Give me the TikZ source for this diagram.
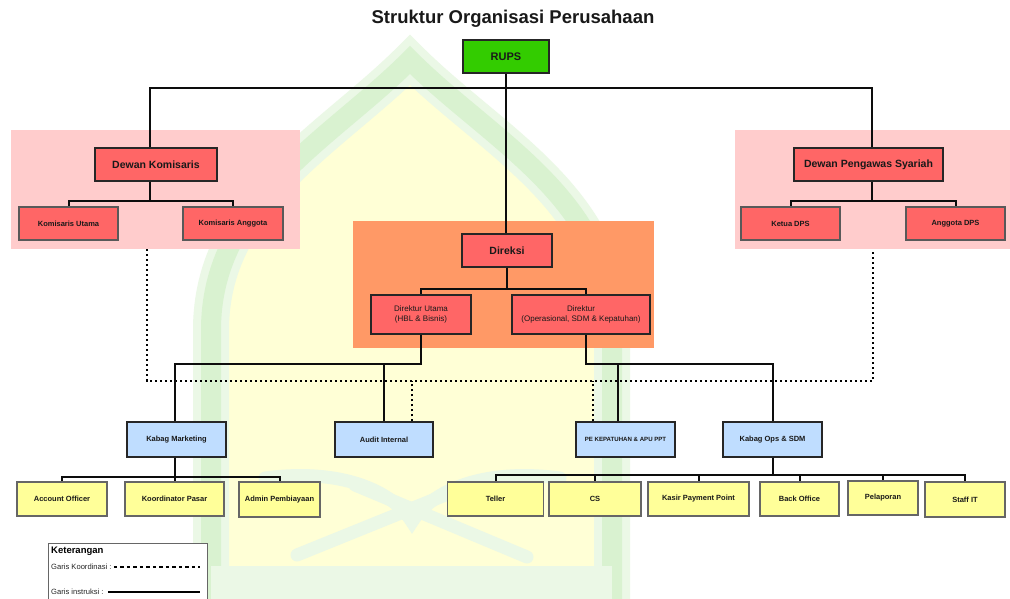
\documentclass[tikz,border=0pt]{standalone}
\usepackage{fontspec}
\setmainfont{Liberation Sans}
\usetikzlibrary{calc}
\definecolor{rupsgreen}{HTML}{33CC00}
\definecolor{redbox}{HTML}{FF6666}
\definecolor{pinkzone}{HTML}{FFCCCC}
\definecolor{orangezone}{HTML}{FF9966}
\definecolor{bluebox}{HTML}{BFDDFF}
\definecolor{yellowbox}{HTML}{FFFF99}
\definecolor{wmyellow}{HTML}{FFFFD6}
\definecolor{wmgreen}{HTML}{D9F2D0}
\definecolor{wmgreenlight}{HTML}{EBF8E6}
\begin{document}
\begin{tikzpicture}[x=1pt,y=-1pt,
  box/.style={draw=black!85, line width=1.3pt, inner sep=1pt, align=center, text=black!90},
  bigtxt/.style={font=\fontsize{10.5}{12}\selectfont\bfseries},
  smalltxt/.style={font=\fontsize{7.5}{9}\selectfont\bfseries},
  regtxt/.style={font=\fontsize{8}{10}\selectfont},
  redb/.style={box, fill=redbox},
  redsub/.style={box, fill=redbox, draw=black!65, smalltxt},
  blueb/.style={box, fill=bluebox, smalltxt},
  yellowb/.style={box, fill=yellowbox, draw=black!60, smalltxt},
  conn/.style={draw=black!95, line width=2pt},
  coord/.style={draw=black, line width=2.2pt, dash pattern=on 2.2pt off 2.8pt},
  zone/.style={draw=none, inner sep=0pt}
]
\clip (0,0) rectangle (1010,599);
\fill[white] (0,0) rectangle (1010,599);

% watermark
\fill[wmyellow] (211,610) -- (211,330) .. controls (211,200) and (330,140) .. (410,60) .. controls (490,140) and (612,200) .. (612,330) -- (612,610) -- cycle;
\draw[wmgreenlight, line width=36pt] (211,620) -- (211,330) .. controls (211,200) and (330,140) .. (410,60) .. controls (490,140) and (612,200) .. (612,330) -- (612,620);
\draw[wmgreen, line width=20pt] (211,620) -- (211,330) .. controls (211,200) and (330,140) .. (410,60) .. controls (490,140) and (612,200) .. (612,330) -- (612,620);
\fill[wmgreenlight] (211,566) rectangle (612,610);
\draw[wmgreenlight, line width=13pt, line cap=round] (265,478) .. controls (340,468) and (392,490) .. (412,522) .. controls (432,490) and (484,468) .. (560,478);
\draw[wmgreenlight, line width=13pt, line cap=round] (297,555) -- (470,485);
\draw[wmgreenlight, line width=13pt, line cap=round] (527,557) -- (355,485);

% title
\node[font=\fontsize{18.5}{22}\selectfont\bfseries, text=black!90] (title) at (513,19) {Struktur Organisasi Perusahaan};

% zones
\node[zone, fill=pinkzone, minimum width=289pt, minimum height=119pt] (zoneK) at (155.5,189.5) {};
\node[zone, fill=pinkzone, minimum width=280pt, minimum height=119pt] (zoneS) at (875,189.5) {};
\node[zone, fill=orangezone, minimum width=301pt, minimum height=127pt] (zoneD) at (503.5,284.5) {};

% boxes
\node[box, fill=rupsgreen, font=\fontsize{11}{13}\selectfont\bfseries, minimum width=86pt, minimum height=33pt] (rups) at (506,56.5) {RUPS};

\node[redb, bigtxt, minimum width=122pt, minimum height=33pt] (dk) at (156,164.5) {Dewan Komisaris};
\node[redsub, minimum width=99pt, minimum height=33pt] (ku) at (68.5,223.5) {Komisaris Utama};
\node[redsub, minimum width=100pt, minimum height=33pt] (ka) at (233,223.5) {Komisaris Anggota};

\node[redb, bigtxt, minimum width=149pt, minimum height=33pt] (dps) at (868.5,164.5) {Dewan Pengawas Syariah};
\node[redsub, minimum width=99pt, minimum height=33pt] (kd) at (790.5,223.5) {Ketua DPS};
\node[redsub, minimum width=99pt, minimum height=33pt] (ad) at (955.5,223.5) {Anggota DPS};

\node[redb, bigtxt, minimum width=90pt, minimum height=33pt] (dir) at (507,250.5) {Direksi};
\node[redb, regtxt, minimum width=100pt, minimum height=39pt] (du) at (421,314.5) {Direktur Utama\\(HBL \& Bisnis)};
\node[redb, regtxt, minimum width=138pt, minimum height=39pt] (do) at (581,314.5) {Direktur\\(Operasional, SDM \& Kepatuhan)};

\node[blueb, minimum width=99pt, minimum height=35pt] (km) at (176.5,439.5) {Kabag Marketing};
\node[blueb, minimum width=98pt, minimum height=35pt] (ai) at (384,439.5) {Audit Internal};
\node[blueb, font=\fontsize{6.1}{8}\selectfont\bfseries, minimum width=99pt, minimum height=35pt] (pe) at (625.5,439.5) {PE KEPATUHAN \& APU PPT};
\node[blueb, minimum width=99pt, minimum height=35pt] (ko) at (772.5,439.5) {Kabag Ops \& SDM};

\node[yellowb, minimum width=90pt, minimum height=34pt] (ao) at (62,499) {Account Officer};
\node[yellowb, minimum width=99pt, minimum height=34pt] (kp) at (174.5,499) {Koordinator Pasar};
\node[yellowb, minimum width=81pt, minimum height=35pt] (ap) at (279.5,499.5) {Admin Pembiayaan};

\node[yellowb, minimum width=96pt, minimum height=34pt] (te) at (495.5,499) {Teller};
\node[yellowb, minimum width=92pt, minimum height=34pt] (cs) at (595,499) {CS};
\node[yellowb, minimum width=101pt, minimum height=34pt] (kpp) at (698.5,499) {Kasir Payment Point};
\node[yellowb, minimum width=79pt, minimum height=34pt] (bo) at (799.5,499) {Back Office};
\node[yellowb, minimum width=70pt, minimum height=34pt] (pl) at (883,498) {Pelaporan};
\node[yellowb, minimum width=80pt, minimum height=35pt] (si) at (965,499.5) {Staff IT};

% bus coordinates
\coordinate (b0) at (0,88);
\coordinate (b3) at (0,364);
\coordinate (bc) at (0,381);

% coordination lines (dotted)
\coordinate (cl) at (147,0);
\coordinate (cr) at (873,0);
\draw[coord] (zoneK.south -| cl) |- (bc -| cr) -- (zoneS.south -| cr);
\draw[coord] ([xshift=28pt]ai.north) -- ([xshift=28pt]ai.north |- bc);
\draw[coord] ([xshift=-32.5pt]pe.north) -- ([xshift=-32.5pt]pe.north |- bc);

% instruction lines
\draw[conn] (rups.south) -- (rups.south |- dir.north);
\draw[conn] ([xshift=-6pt]dk.north) |- (b0 -| dps.north) -- ([xshift=3.5pt]dps.north |- b0) -- ([xshift=3.5pt]dps.north);
\draw[conn] ([xshift=-6pt]dk.south) -- ++(0,19) -| (ku.north);
\draw[conn] ([xshift=-6pt]dk.south) -- ++(0,19) -| (ka.north);
\draw[conn] ([xshift=3.5pt]dps.south) -- ++(0,19) -| (kd.north);
\draw[conn] ([xshift=3.5pt]dps.south) -- ++(0,19) -| (ad.north);
\draw[conn] (dir.south) -- ++(0,21) -| (du.north);
\draw[conn] (dir.south) -- ++(0,21) -| ([xshift=4.5pt]do.north);
\draw[conn] (du.south) |- (b3 -| km.north) -- ([xshift=-2pt]km.north |- b3) -- ([xshift=-2pt]km.north);
\draw[conn] (du.south |- b3) -| (ai.north);
\draw[conn] ([xshift=4.5pt]do.south) |- (b3 -| ko.north) -- (ko.north);
\draw[conn] ([xshift=4.5pt]do.south |- b3) -| ([xshift=-7.5pt]pe.north);
\foreach \c in {ao,kp,ap} \draw[conn] ([xshift=-2pt]km.south) -- ++(0,19) -| (\c.north);
\foreach \c in {te,cs,kpp,bo,pl,si} \draw[conn] (ko.south) -- ++(0,17) -| (\c.north);

% legend
\node[draw=black!60, line width=1.3pt, fill=white, minimum width=159pt, minimum height=70pt, anchor=north west] (leg) at (48,543) {};
\node[font=\fontsize{9.5}{11}\selectfont\bfseries, anchor=west, inner sep=0pt] (legt) at (51,551) {Keterangan};
\node[font=\fontsize{7.6}{9}\selectfont, anchor=west, inner sep=0pt, text=black!85] (lk) at (51,567) {Garis Koordinasi :};
\node[font=\fontsize{7.6}{9}\selectfont, anchor=west, inner sep=0pt, text=black!85] (li) at (51,592) {Garis instruksi :};
\coordinate (lend1) at (200,567);
\coordinate (lend2) at (200,592);
\draw[black, line width=1.8pt, dash pattern=on 3.5pt off 3pt] ([xshift=2pt]lk.east) -- (lend1);
\draw[black, line width=2.4pt] ([xshift=4pt]li.east) -- (lend2);
\end{tikzpicture}
\end{document}
